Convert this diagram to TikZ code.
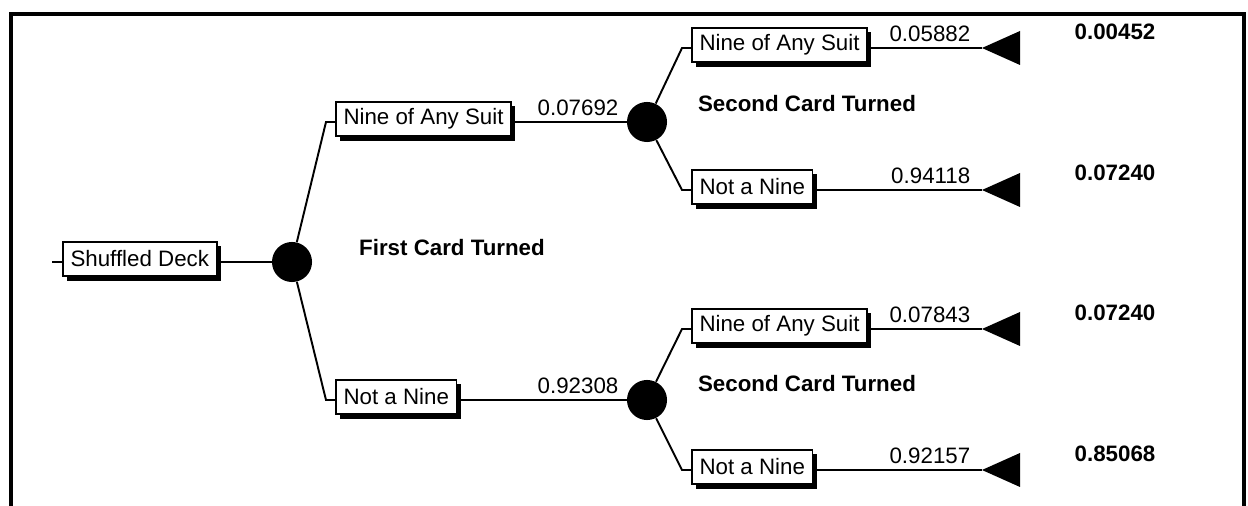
\documentclass[tikz,border=0pt]{standalone}
\usepackage{fontspec}
\setmainfont{Liberation Sans}
\usetikzlibrary{positioning,calc,shadows}

\begin{document}
\begin{tikzpicture}[x=0.02cm, y=-0.02cm,
    font=\fontsize{12.7}{15}\selectfont,
    event/.style={draw, line width=1.1pt, fill=white, inner xsep=4.3pt, inner ysep=0pt,
        minimum height=19.5pt, anchor=west,
        drop shadow={shadow xshift=2.3pt, shadow yshift=-2.5pt, fill=black, opacity=1}},
    chance/.style={circle, fill=black, minimum size=22.8pt, inner sep=0pt},
    edge/.style={line width=1.1pt},
    prob/.style={inner sep=3.5pt},
    payoff/.style={font=\fontsize{12.7}{15}\selectfont\bfseries},
    stage/.style={font=\fontsize{12.7}{15}\selectfont\bfseries}
]
\useasboundingbox (0,0) rectangle (1248,506);

% Frame
\draw[line width=2.6pt] (11,506) -- (11,14) -- (1244,14) -- (1244,506);

% Root
\coordinate (root) at (52,262);
\node[event] (deck) at (62,259) {Shuffled Deck};
\node[chance] (first) at (292,262) {};
\draw[edge] (root) -- (root -| deck.west);
\draw[edge] (deck.east |- first) -- (first);
\node[stage] (firstlbl) at (452,248) {First Card Turned};

% First card
\node[event] (nine) at (335,119) {Nine of Any Suit};
\node[event] (notnine) at (335,397) {Not a Nine};
\node[chance] (second) at (647,122) {};
\node[chance] (secondb) at (647,400) {};

\draw[edge] (first) -- ($(nine.west |- second)+(-9,0)$) -- (nine.west |- second);
\draw[edge] (first) -- ($(notnine.west |- secondb)+(-9,0)$) -- (notnine.west |- secondb);
\draw[edge] (nine.east |- second) -- (second);
\draw[edge] (notnine.east |- secondb) -- (secondb);
\node[prob, above left=0pt and 1pt of second.west] (p1) {0.07692};
\node[prob, above left=0pt and 1pt of secondb.west] (p2) {0.92308};

\node[stage] (secondlbl) at (807,104) {Second Card Turned};
\node[stage] (secondblbl) at (807,384) {Second Card Turned};

% Second card
\node[event] (ninenine) at (691,45) {Nine of Any Suit};
\node[event] (ninenot) at (691,187) {Not a Nine};
\node[event] (notnine2) at (691,326) {Nine of Any Suit};
\node[event] (notnot) at (691,467) {Not a Nine};

\coordinate (end1) at (982,48);
\coordinate (end2) at (982,190);
\coordinate (end3) at (982,329);
\coordinate (end4) at (982,470);

\draw[edge] (second) -- ($(ninenine.west |- end1)+(-9,0)$) -- (ninenine.west |- end1);
\draw[edge] (second) -- ($(ninenot.west |- end2)+(-9,0)$) -- (ninenot.west |- end2);
\draw[edge] (secondb) -- ($(notnine2.west |- end3)+(-9,0)$) -- (notnine2.west |- end3);
\draw[edge] (secondb) -- ($(notnot.west |- end4)+(-9,0)$) -- (notnot.west |- end4);

\draw[edge] (ninenine.east |- end1) -- (end1);
\draw[edge] (ninenot.east |- end2) -- (end2);
\draw[edge] (notnine2.east |- end3) -- (end3);
\draw[edge] (notnot.east |- end4) -- (end4);

% Terminal nodes
\foreach \e in {end1,end2,end3,end4}
    \fill (\e) -- ++(38,-17) -- ++(0,34) -- cycle;

\node[prob, above left=0pt and 3pt of end1] (p11) {0.05882};
\node[prob, above left=0pt and 3pt of end2] (p12) {0.94118};
\node[prob, above left=0pt and 3pt of end3] (p21) {0.07843};
\node[prob, above left=0pt and 3pt of end4] (p22) {0.92157};

\node[payoff] (v1) at (1115,32) {0.00452};
\node[payoff] (v2) at (1115,173) {0.07240};
\node[payoff] (v3) at (1115,313) {0.07240};
\node[payoff] (v4) at (1115,454) {0.85068};

\end{tikzpicture}
\end{document}
